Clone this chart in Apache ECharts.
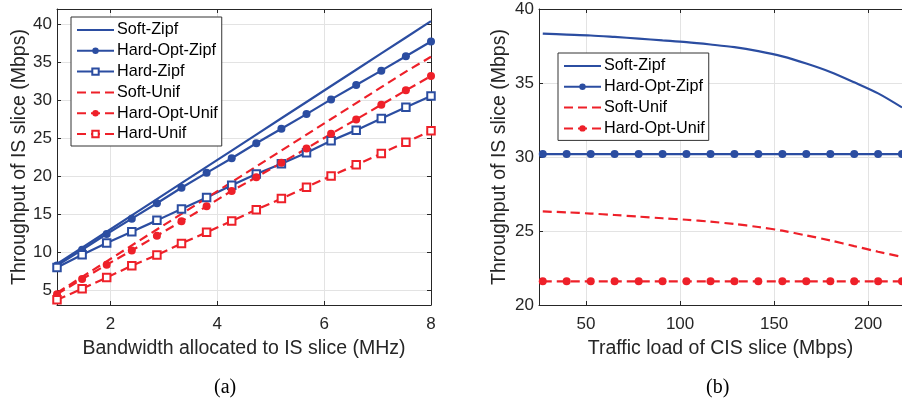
<!DOCTYPE html>
<html><head><meta charset="utf-8">
<script src="https://cdn.jsdelivr.net/npm/echarts@6/dist/echarts.min.js"></script>
<style>html,body{margin:0;padding:0;background:#fff}#c{width:902px;height:401px}</style>
</head><body><div id="c"></div>
<script>
// ---- Panel (a): throughput vs bandwidth ----
const bwMHz = [1, 1.47, 1.93, 2.4, 2.87, 3.33, 3.8, 4.27, 4.73, 5.2, 5.67, 6.13, 6.6, 7.07, 7.53, 8];
const softZipfA   = [8.4, 10.55, 12.65, 14.8, 16.95, 19.05, 21.2, 23.35, 25.45, 27.6, 29.75, 31.85, 34.0, 36.15, 38.25, 40.4];
const hardOptZipfA = [8.2, 10.28, 12.35, 14.38, 16.4, 18.45, 20.41, 22.34, 24.32, 26.22, 28.15, 30.09, 31.98, 33.88, 35.77, 37.71];
const hardZipfA   = [7.95, 9.62, 11.17, 12.66, 14.15, 15.66, 17.15, 18.78, 20.25, 21.6, 23.05, 24.64, 26.04, 27.58, 29.04, 30.53];
const softUnifA   = [4.6, 6.7, 8.75, 10.85, 12.95, 15.0, 17.1, 19.2, 21.25, 23.35, 25.45, 27.5, 29.6, 31.7, 33.75, 35.7];
const hardOptUnifA = [4.43, 6.41, 8.3, 10.19, 12.13, 14.02, 16.0, 18.03, 19.83, 21.73, 23.62, 25.56, 27.45, 29.39, 31.28, 33.17];
const hardUnifA   = [3.68, 5.13, 6.62, 8.17, 9.58, 11.11, 12.57, 14.07, 15.56, 17.02, 18.53, 20.01, 21.47, 22.96, 24.45, 25.95];
const xTicksA = [2, 4, 6, 8];
const yTicksA = [5, 10, 15, 20, 25, 30, 35, 40];

// ---- Panel (b): throughput vs CIS traffic load ----
const loadMbps = [27, 39.7, 52.5, 65.2, 78, 90.7, 103.4, 116.2, 128.9, 141.6, 154.4, 167.1, 179.9, 192.6, 205.3, 218];
const softZipfB    = [38.33, 38.27, 38.21, 38.11, 38.0, 37.88, 37.76, 37.6, 37.42, 37.15, 36.8, 36.32, 35.75, 35.05, 34.3, 33.35];
const hardOptZipfB = [30.2, 30.2, 30.2, 30.2, 30.2, 30.2, 30.2, 30.2, 30.2, 30.2, 30.2, 30.2, 30.2, 30.2, 30.2, 30.2];
const softUnifB    = [26.32, 26.26, 26.18, 26.08, 25.97, 25.86, 25.76, 25.63, 25.47, 25.27, 25.02, 24.7, 24.36, 23.98, 23.6, 23.25];
const hardOptUnifB = [21.6, 21.6, 21.6, 21.6, 21.6, 21.6, 21.6, 21.6, 21.6, 21.6, 21.6, 21.6, 21.6, 21.6, 21.6, 21.6];
const xTicksB = [50, 100, 150, 200];
const yTicksB = [20, 25, 30, 35, 40];

const namesA = ['Soft-Zipf', 'Hard-Opt-Zipf', 'Hard-Zipf', 'Soft-Unif', 'Hard-Opt-Unif', 'Hard-Unif'];
const namesB = ['Soft-Zipf', 'Hard-Opt-Zipf', 'Soft-Unif', 'Hard-Opt-Unif'];
const noMarker = ['Soft-Zipf', 'Soft-Unif'];

const BLUE = '#2B4DA1';
const RED = '#EE2029';
const AX = '#262626';
const GRIDC = '#e3e3e3';
const FONT = 'Liberation Sans';
const DASH = [9, 5];

function pairs(xs, ys) { return xs.map((x, i) => [x, ys[i]]); }

function ser(name, xi, xs, ys, color, dashed, symbol, smooth) {
  const s = {
    name: name, type: 'line', xAxisIndex: xi, yAxisIndex: xi,
    data: pairs(xs, ys), smooth: smooth || false,
    lineStyle: { color: color, width: 2.2, type: dashed ? DASH : 'solid' },
    itemStyle: { color: color },
    symbol: symbol || 'none', symbolSize: symbol === 'emptyRect' ? 7.5 : 8,
    showSymbol: !!symbol, clip: true, z: 3
  };
  if (symbol === 'emptyRect') s.itemStyle.borderWidth = 2;
  return s;
}

function mainX(gi, min, max, ticks, name) {
  return {
    type: 'value', gridIndex: gi, min: min, max: max, position: 'bottom',
    name: name, nameLocation: 'middle', nameGap: 33.5,
    nameTextStyle: { fontFamily: FONT, fontSize: 19.5, color: AX },
    axisLine: { show: true, onZero: false, lineStyle: { color: AX, width: 1 } },
    axisTick: { show: true, inside: true, length: 4, customValues: ticks, lineStyle: { color: AX } },
    axisLabel: { show: true, customValues: ticks, margin: 11, fontFamily: FONT, fontSize: 17, color: AX },
    splitLine: { show: true, lineStyle: { color: GRIDC, width: 1 } }
  };
}
function mainY(gi, min, max, ticks, name, gap) {
  return {
    type: 'value', gridIndex: gi, min: min, max: max, position: 'left',
    name: name, nameLocation: 'middle', nameGap: gap,
    nameTextStyle: { fontFamily: FONT, fontSize: 19.5, color: AX },
    axisLine: { show: true, onZero: false, lineStyle: { color: AX, width: 1 } },
    axisTick: { show: true, inside: true, length: 4, customValues: ticks, lineStyle: { color: AX } },
    axisLabel: { show: true, customValues: ticks, margin: 5, fontFamily: FONT, fontSize: 17, color: AX },
    splitLine: { show: true, lineStyle: { color: GRIDC, width: 1 } }
  };
}
function boxAx(gi, min, max, ticks, pos) {
  return {
    type: 'value', gridIndex: gi, min: min, max: max, position: pos,
    axisLine: { show: true, onZero: false, lineStyle: { color: AX, width: 1 } },
    axisTick: { show: true, inside: true, length: 4, customValues: ticks, lineStyle: { color: AX } },
    axisLabel: { show: false }, splitLine: { show: false }
  };
}

function legendData(names) {
  return names.map(n => noMarker.indexOf(n) >= 0 ? { name: n, itemStyle: { opacity: 0 } } : { name: n });
}

const legendBase = {
  orient: 'vertical', itemWidth: 37, itemHeight: 8, itemGap: 4.8,
  backgroundColor: '#fff', borderColor: '#333', borderWidth: 1, borderRadius: 0,
  padding: [5, 4, 4, 5], selectedMode: false,
  textStyle: { fontFamily: FONT, fontSize: 16.2, color: '#000', lineHeight: 16, padding: [0, 0, 0, -2] },
  z: 10
};

const option = {
  animation: false,
  backgroundColor: '#fff',
  grid: [
    { left: 57, top: 9, width: 374, height: 296, containLabel: false },
    { left: 539, top: 9, width: 368, height: 296, containLabel: false }
  ],
  xAxis: [
    mainX(0, 1, 8, xTicksA, 'Bandwidth allocated to IS slice (MHz)'),
    mainX(1, 25, 218, xTicksB, 'Traffic load of CIS slice (Mbps)'),
    boxAx(0, 1, 8, xTicksA, 'top'),
    boxAx(1, 25, 218, xTicksB, 'top')
  ],
  yAxis: [
    mainY(0, 3, 42, yTicksA, 'Throughput of IS slice (Mbps)', 27),
    mainY(1, 20, 40, yTicksB, 'Throughput of IS slice (Mbps)', 29),
    boxAx(0, 3, 42, yTicksA, 'right')
  ],
  legend: [
    Object.assign({}, legendBase, { left: 71, top: 17, data: legendData(namesA) }),
    Object.assign({}, legendBase, { left: 558, top: 53, data: legendData(namesB) })
  ],
  graphic: [
    { type: 'text', left: 214, top: 378, style: { text: '(a)', font: '20px "Liberation Serif"', fill: '#000' } },
    { type: 'text', left: 706, top: 378, style: { text: '(b)', font: '20px "Liberation Serif"', fill: '#000' } }
  ],
  series: [
    ser('Soft-Zipf', 0, bwMHz, softZipfA, BLUE, false, null),
    ser('Hard-Opt-Zipf', 0, bwMHz, hardOptZipfA, BLUE, false, 'circle'),
    ser('Hard-Zipf', 0, bwMHz, hardZipfA, BLUE, false, 'emptyRect'),
    ser('Soft-Unif', 0, bwMHz, softUnifA, RED, true, null),
    ser('Hard-Opt-Unif', 0, bwMHz, hardOptUnifA, RED, true, 'circle'),
    ser('Hard-Unif', 0, bwMHz, hardUnifA, RED, true, 'emptyRect'),
    ser('Soft-Zipf', 1, loadMbps, softZipfB, BLUE, false, null, 0.3),
    ser('Hard-Opt-Zipf', 1, loadMbps, hardOptZipfB, BLUE, false, 'circle'),
    ser('Soft-Unif', 1, loadMbps, softUnifB, RED, true, null, 0.3),
    ser('Hard-Opt-Unif', 1, loadMbps, hardOptUnifB, RED, true, 'circle')
  ]
};

const chart = echarts.init(document.getElementById('c'), null, { renderer: 'canvas' });
chart.setOption(option);
</script>
</body></html>
